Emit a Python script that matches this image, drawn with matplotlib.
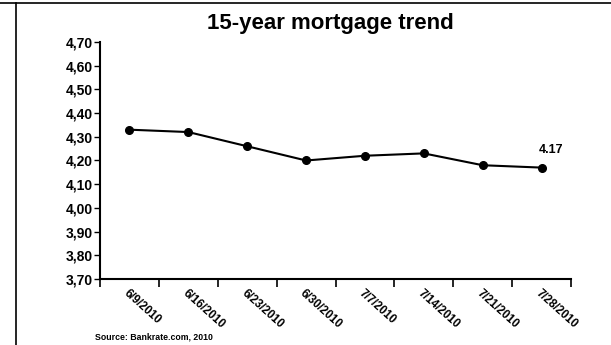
import matplotlib
matplotlib.use("Agg")
import matplotlib.pyplot as plt
from matplotlib.lines import Line2D
from matplotlib.ticker import FixedLocator, FixedFormatter

plt.rcParams['font.family'] = ['Liberation Sans', 'DejaVu Sans']

dates = ["6/9/2010", "6/16/2010", "6/23/2010", "6/30/2010",
         "7/7/2010", "7/14/2010", "7/21/2010", "7/28/2010"]
rates = [4.33, 4.32, 4.26, 4.20, 4.22, 4.23, 4.18, 4.17]
y_ticks = [3.70, 3.80, 3.90, 4.00, 4.10, 4.20, 4.30, 4.40, 4.50, 4.60, 4.70]
y_tick_labels = ["3,70", "3,80", "3,90", "4,00", "4,10", "4,20",
                 "4,30", "4,40", "4,50", "4,60", "4,70"]
title = "15-year mortgage trend"
source = "Source: Bankrate.com, 2010"

fig = plt.figure(figsize=(6.11, 3.45), dpi=100)
ax = fig.add_axes([0.1637, 0.1913, 0.9345 - 0.1637, 0.8783 - 0.1913])

x = list(range(len(dates)))
ax.plot(x, rates, color='black', lw=1.5, marker='o', markersize=5.5)
ax.annotate(f"{rates[-1]:.2f}", (x[-1], rates[-1]), xytext=(-2, 8),
            textcoords='offset points', ha='left', va='bottom',
            fontsize=9, fontweight='bold')

ax.set_xlim(-0.5, len(dates) - 0.5)
ax.set_ylim(y_ticks[0], y_ticks[-1])
ax.yaxis.set_major_locator(FixedLocator(y_ticks))
ax.yaxis.set_major_formatter(FixedFormatter(y_tick_labels))
ax.xaxis.set_major_locator(FixedLocator([i - 0.5 for i in range(len(dates) + 1)]))
ax.xaxis.set_major_formatter(FixedFormatter([""] * (len(dates) + 1)))
ax.xaxis.set_minor_locator(FixedLocator(x))
ax.xaxis.set_minor_formatter(FixedFormatter(dates))
ax.tick_params(axis='x', which='major', length=6, width=1.2, direction='out')
ax.tick_params(axis='x', which='minor', length=0, pad=6, labelsize=8.3)
ax.tick_params(axis='y', length=4, width=1, labelsize=10, pad=1.5)
for lab in ax.get_xticklabels(minor=True):
    lab.set_rotation(-42)
    lab.set_ha('left')
    lab.set_va('top')
    lab.set_rotation_mode('anchor')
    lab.set_fontweight('bold')
for lab in ax.get_yticklabels():
    lab.set_fontweight('bold')

for s in ['top', 'right']:
    ax.spines[s].set_visible(False)
for s in ['left', 'bottom']:
    ax.spines[s].set_linewidth(1.5)

fig.text(330 / 611, 1 - 23 / 345, title, ha='center', va='center',
         fontsize=16, fontweight='bold')
fig.text(95 / 611, 1 - 337 / 345, source, ha='left', va='center',
         fontsize=6.3, fontweight='bold')

# page frame lines
fig.add_artist(Line2D([16 / 611, 16 / 611], [0, 1 - 3 / 345],
                      transform=fig.transFigure, color='black', lw=1.2))
fig.add_artist(Line2D([0, 1], [1 - 3 / 345, 1 - 3 / 345],
                      transform=fig.transFigure, color='black', lw=1.2))

fig.savefig("out.png", dpi=100)
